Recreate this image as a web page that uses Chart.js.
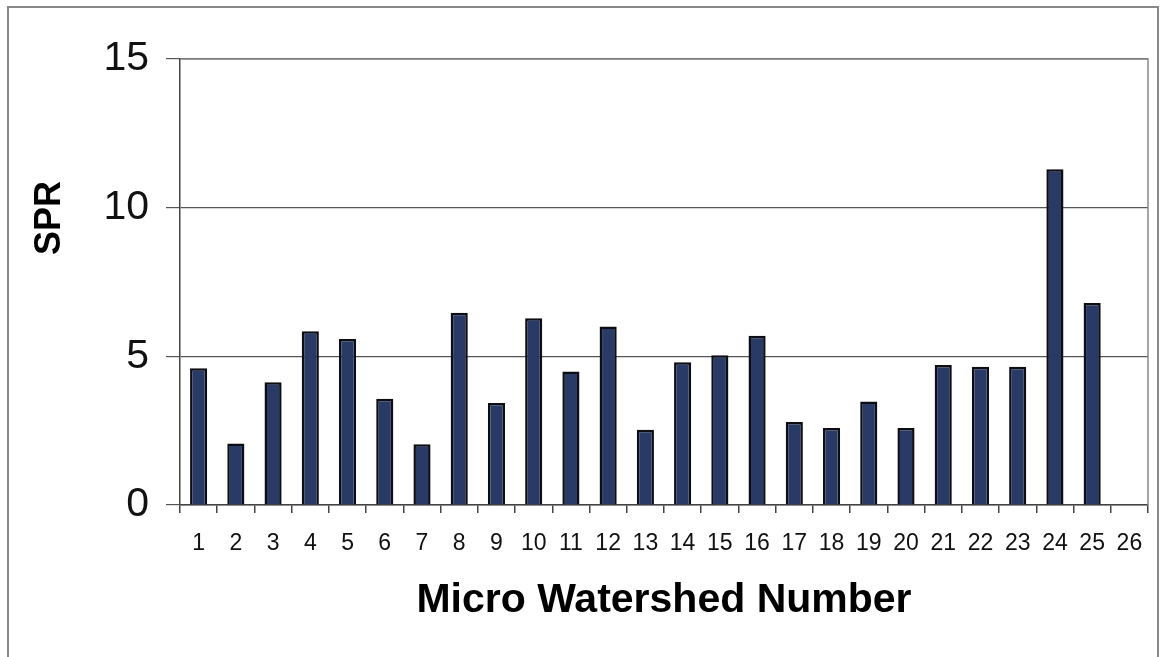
<!DOCTYPE html>
<html>
<head>
<meta charset="utf-8">
<script src="https://cdn.jsdelivr.net/npm/chart.js@4"></script>
<style>
  html, body { margin: 0; padding: 0; background: #fff; }
  .frame { position: absolute; left: 7px; top: 6px; width: 1152px; height: 700px;
           border: 2px solid #888; border-bottom: none; box-sizing: border-box; }
  .chart-container { position: absolute; left: 0; top: 0; width: 1171px; height: 657px; }
</style>
</head>
<body>
<div class="frame"></div>
<div class="chart-container"><canvas id="chart" width="1171" height="657"></canvas></div>
<script>
const watersheds = ['1','2','3','4','5','6','7','8','9','10','11','12','13','14','15','16','17','18','19','20','21','22','23','24','25','26'];
const sprValues = [4.6, 2.07, 4.13, 5.84, 5.58, 3.57, 2.04, 6.47, 3.43, 6.28, 4.49, 6.0, 2.53,
                   4.8, 5.04, 5.69, 2.79, 2.59, 3.48, 2.59, 4.71, 4.65, 4.65, 11.29, 6.79, null];
const yTicks = [0, 5, 10, 15];

// plot frame + rotated y title
const extras = {
  id: 'extras',
  afterDraw(chart) {
    const { ctx, chartArea } = chart;
    ctx.save();
    ctx.strokeStyle = '#888';
    ctx.lineWidth = 1.5;
    ctx.beginPath();
    ctx.moveTo(chartArea.left, chartArea.top);
    ctx.lineTo(chartArea.right, chartArea.top);
    ctx.lineTo(chartArea.right, chartArea.bottom);
    ctx.stroke();
    ctx.translate(50, 218);
    ctx.rotate(-Math.PI / 2);
    ctx.fillStyle = '#000';
    ctx.font = 'bold 36px Arial, "Liberation Sans", sans-serif';
    ctx.textAlign = 'center';
    ctx.textBaseline = 'middle';
    ctx.fillText('SPR', 0, 0);
    ctx.restore();
  }
};

new Chart(document.getElementById('chart'), {
  type: 'bar',
  data: {
    labels: watersheds,
    datasets: [{
      label: 'SPR',
      data: sprValues,
      backgroundColor: '#2a3a66',
      borderColor: '#0d0d14',
      borderWidth: 2.5,
      barPercentage: 0.46,
      categoryPercentage: 1.0,
    }],
  },
  options: {
    responsive: false,
    animation: false,
    layout: { padding: { top: 59, right: 23, left: 0, bottom: 0 } },
    plugins: { legend: { display: false }, tooltip: { enabled: false } },
    scales: {
      x: {
        afterFit(scale) { scale.height = 152; },
        grid: { offset: true, drawOnChartArea: false, tickLength: 8, color: '#444', lineWidth: 1.5 },
        border: { color: '#444', width: 1.5 },
        ticks: { color: '#111', padding: 17, maxRotation: 0, autoSkip: false,
                 font: { family: 'Arial, "Liberation Sans", sans-serif', size: 23 } },
        title: { display: true, text: 'Micro Watershed Number', color: '#000',
                 padding: { top: 0, bottom: 32 },
                 font: { family: 'Arial, "Liberation Sans", sans-serif', size: 41, weight: 'bold' } },
      },
      y: {
        min: 0,
        max: 15,
        afterFit(scale) { scale.width = 180; },
        afterBuildTicks(scale) { scale.ticks = yTicks.map(v => ({ value: v })); },
        grid: { color: '#555', lineWidth: 1.2, tickLength: 14 },
        border: { color: '#444', width: 1.5 },
        ticks: { color: '#111', padding: 17,
                 font: { family: 'Arial, "Liberation Sans", sans-serif', size: 41 } },
      },
    },
  },
  plugins: [extras],
});
</script>
</body>
</html>
